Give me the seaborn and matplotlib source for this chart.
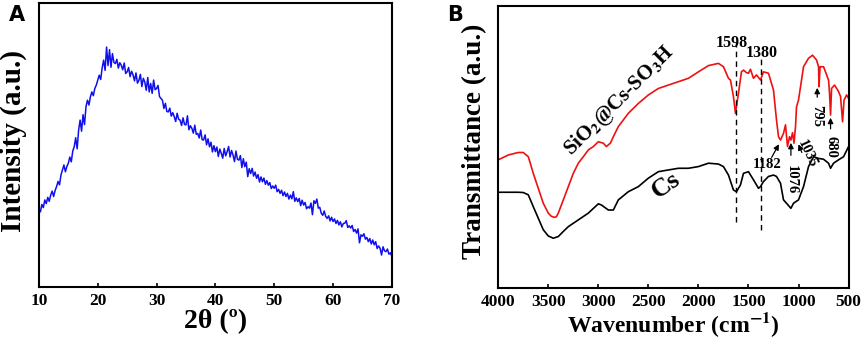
import numpy as np
import pandas as pd
import matplotlib
matplotlib.use("Agg")
import matplotlib.pyplot as plt
import seaborn as sns

# XRD pattern (panel A), 0.25 deg steps, intensity in a.u.
two_theta = np.arange(10, 70.01, 0.25)
xrd_intensity = [
    27.8, 26.5, 29.1, 28.0,
    30.7, 29.4, 31.6, 30.2,
    32.4, 33.8, 31.9, 34.0,
    35.4, 37.2, 36.0, 39.5,
    41.2, 43.0, 40.6, 42.5,
    43.6, 45.8, 44.1, 47.9,
    49.4, 52.6, 48.7, 55.3,
    58.8, 54.9, 60.7, 57.2,
    63.5, 65.8, 64.1, 67.0,
    68.7, 67.4, 69.9, 71.1,
    72.8, 74.6, 73.1, 77.2,
    79.9, 76.3, 84.5, 78.0,
    83.6, 77.4, 82.2, 79.1,
    78.7, 80.2, 77.1, 79.0,
    78.1, 76.5, 78.9, 75.2,
    75.8, 77.3, 74.1, 76.0,
    74.7, 72.6, 75.4, 71.8,
    72.8, 74.9, 70.6, 73.5,
    72.2, 69.3, 73.8, 68.7,
    71.7, 68.2, 72.9, 69.5,
    69.9, 71.0, 67.1, 66.4,
    65.8, 62.9, 64.7, 61.8,
    61.7, 63.0, 60.2, 61.4,
    60.0, 58.3, 61.2, 59.1,
    58.8, 56.9, 59.6, 57.3,
    57.1, 60.3, 55.4, 56.8,
    55.9, 54.2, 57.0, 53.8,
    54.1, 52.5, 55.3, 51.9,
    51.8, 53.6, 50.1, 52.2,
    49.4, 51.0, 47.6, 49.8,
    47.7, 49.3, 46.0, 48.6,
    47.1, 45.4, 48.8, 46.2,
    47.7, 49.5, 45.8, 48.1,
    46.5, 44.2, 47.9, 45.0,
    44.7, 46.3, 42.1, 45.2,
    42.4, 44.0, 38.9, 41.7,
    40.0, 41.8, 39.1, 40.5,
    38.3, 39.6, 37.0, 38.8,
    37.1, 38.4, 36.2, 37.5,
    35.9, 36.8, 34.7, 35.6,
    34.8, 35.9, 33.6, 34.4,
    33.0, 34.1, 32.2, 33.5,
    31.9, 33.0, 31.0, 32.4,
    31.1, 33.6, 30.2, 31.4,
    30.1, 31.2, 28.7, 30.6,
    28.9, 29.8, 27.6, 28.3,
    27.8, 29.6, 25.5, 30.4,
    29.5, 31.0, 27.8, 28.1,
    26.0, 25.3, 26.8, 24.9,
    24.2, 25.1, 23.3, 24.6,
    23.1, 24.0, 22.4, 23.5,
    21.9, 23.0, 21.2, 22.4,
    22.5, 23.4, 21.0, 21.6,
    20.8, 21.7, 19.6, 20.3,
    19.0, 20.5, 15.6, 18.4,
    17.9, 18.8, 16.9, 17.5,
    16.0, 17.1, 15.2, 16.6,
    14.9, 16.0, 13.6, 14.5,
    13.7, 11.3, 14.2, 12.8,
    12.5, 13.4, 11.6, 12.1,
    10.8,
]

# FTIR spectra (panel B)
wn_red = [4000, 3900, 3800, 3750, 3700, 3680, 3650, 3600, 3550, 3500, 3470, 3440,
          3420, 3400, 3350, 3300, 3250, 3200, 3150, 3100, 3050, 3000, 2950,
          2920, 2880, 2850, 2800, 2700, 2600, 2500, 2400, 2300, 2200, 2100, 2000,
          1900, 1800, 1750, 1700, 1680, 1650, 1630, 1600, 1570, 1550, 1520, 1500,
          1480, 1450, 1420, 1380, 1350, 1300, 1250, 1220, 1200, 1180, 1150, 1130,
          1110, 1090, 1076, 1060, 1045, 1030, 1020, 1000, 950, 900, 860, 820,
          800, 795, 785, 750, 700, 690, 680, 670, 640, 600, 580, 560, 545, 520, 500]
t_red = [45.5, 47.2, 48.1, 48.1, 46.6, 44.3, 40.7, 35.4, 30.1, 26.6, 25.5, 25.1,
         25.3, 26.6, 31.3, 36.0, 40.7, 44.3, 46.6, 49.0, 50.2, 51.9, 51.4,
         50.2, 51.4, 53.7, 57.3, 62.0, 65.5, 68.5, 70.8, 72.0, 73.2, 74.4, 76.7,
         78.9, 79.7, 78.5, 74.4, 73.8, 67.9, 62.0, 69.1, 76.7, 77.3, 76.4, 76.2,
         77.6, 74.4, 75.6, 73.8, 76.7, 76.2, 70.2, 59.6, 53.7, 52.5, 54.9, 57.9,
         50.2, 53.7, 52.5, 55.1, 51.4, 57.3, 64.3, 66.7, 78.5, 81.5, 82.6, 80.9,
         78.5, 71.4, 78.5, 78.5, 73.8, 69.1, 61.4, 70.8, 72.0, 69.7, 67.9, 59.0,
         66.7, 68.5, 67.3]

wn_black = [4000, 3800, 3750, 3700, 3650, 3600, 3550, 3500, 3450, 3400, 3350, 3300,
            3250, 3200, 3100, 3000, 2970, 2900, 2850, 2800, 2700, 2600, 2500, 2400,
            2300, 2200, 2100, 2000, 1900, 1800, 1750, 1700, 1650, 1620, 1580, 1550,
            1500, 1450, 1400, 1380, 1350, 1300, 1250, 1220, 1180, 1150, 1120, 1076,
            1050, 1000, 950, 900, 850, 800, 750, 700, 680, 650, 600, 550, 500]
t_black = [34.0, 34.0, 33.9, 33.1, 28.9, 24.8, 20.7, 18.5, 17.7, 18.3, 20.1, 21.8,
           23.0, 24.2, 26.6, 29.9, 29.5, 27.7, 27.7, 31.3, 34.2, 36.0, 39.0, 41.3,
           41.9, 42.5, 42.5, 43.1, 44.3, 44.0, 43.1, 40.1, 34.8, 34.2, 36.6, 40.7,
           41.3, 38.4, 35.4, 36.0, 37.8, 39.6, 40.1, 39.6, 37.2, 31.3, 30.1, 28.3,
           30.1, 31.3, 36.0, 43.1, 46.6, 46.0, 45.7, 44.3, 42.5, 44.3, 45.5, 46.6,
           50.2]

sns.set_style("white")
plt.rcParams['font.family'] = ['Liberation Serif', 'DejaVu Serif']
plt.rcParams['font.weight'] = 'bold'
plt.rcParams['mathtext.fontset'] = 'stix'
plt.rcParams['axes.linewidth'] = 1.5
plt.rcParams['text.color'] = 'black'
plt.rcParams['axes.labelcolor'] = 'black'
plt.rcParams['xtick.color'] = 'black'

fig = plt.figure(figsize=(8.65, 3.39), dpi=100)
ax1 = fig.add_axes([0.045, 0.153, 0.408, 0.838])
ax2 = fig.add_axes([0.576, 0.150, 0.405, 0.832])

# Panel A
df_xrd = pd.DataFrame({'two_theta': two_theta, 'intensity': xrd_intensity})
sns.lineplot(data=df_xrd, x='two_theta', y='intensity', ax=ax1, color='#1010ee', lw=1.1)
ax1.set_xlim(10, 70)
ax1.set_ylim(0, 100)
ticks_a = list(range(10, 71, 10))
ax1.set_xticks(ticks_a, labels=[str(t) for t in ticks_a])
ax1.set_xlabel('2θ (º)', fontsize=20, fontweight='bold', labelpad=0)
ax1.set_ylabel('Intensity (a.u.)', fontsize=21, fontweight='bold')

# Panel B
df_red = pd.DataFrame({'wn': wn_red, 't': t_red})
df_black = pd.DataFrame({'wn': wn_black, 't': t_black})
sns.lineplot(data=df_red, x='wn', y='t', ax=ax2, color='#ee1111', lw=1.2, sort=False)
sns.lineplot(data=df_black, x='wn', y='t', ax=ax2, color='black', lw=1.2, sort=False)
ax2.set_xlim(4000, 500)
ax2.set_ylim(0, 100)
ticks_b = list(range(4000, 499, -500))
ax2.set_xticks(ticks_b, labels=[str(t) for t in ticks_b])
ax2.set_xlabel(r'Wavenumber (cm$^{\mathbf{-1}}$)', fontsize=17, fontweight='bold', labelpad=0)
ax2.set_ylabel('Transmittance (a.u.)', fontsize=19.5, fontweight='bold')

for ax in (ax1, ax2):
    for sp in ax.spines.values():
        sp.set_visible(True)
        sp.set_color('black')
        sp.set_linewidth(1.5)
    ax.tick_params(axis='x', direction='in', length=3, width=1.2, pad=4, bottom=True)
    ax.set_yticks([])
    plt.setp(ax.get_xticklabels(), fontsize=12.5, fontweight='heavy',
             family='Liberation Serif')
ax1.yaxis.set_label_coords(-0.034, 0.515)
ax2.yaxis.set_label_coords(-0.031, 0.52)

# dashed guide lines
ax2.plot([1628, 1628], [23.6, 87.4], color='black', lw=1.0, dashes=(4, 3))
ax2.plot([1379, 1379], [20.7, 81.5], color='black', lw=1.0, dashes=(4, 3))
ax2.text(1671, 86.8, '1598', fontsize=11.5, fontweight='bold', ha='center', va='center')
ax2.text(1372, 83.2, '1380', fontsize=11.5, fontweight='bold', ha='center', va='center')

ax2.text(2790, 66.5, r'SiO$_\mathbf{2}$@Cs-SO$_\mathbf{3}$H', fontsize=15,
         fontweight='bold', rotation=45, ha='center', va='center')
ax2.text(2320, 36.5, 'Cs', fontsize=19, fontweight='bold', rotation=35,
         ha='center', va='center')

arrow = dict(arrowstyle='-|>', color='black', lw=0.9, mutation_scale=8)
ax2.annotate('', xy=(1182, 51.9), xytext=(1282, 45.5), arrowprops=arrow)
ax2.text(1315, 43.7, '1182', fontsize=10.5, fontweight='bold', ha='center', va='center')
ax2.annotate('', xy=(1076, 52.5), xytext=(1076, 46.1), arrowprops=arrow)
ax2.text(1076, 38.5, '1076', fontsize=10.5, fontweight='bold', rotation=-90,
         ha='center', va='center')
ax2.annotate('', xy=(1012, 51.9), xytext=(956, 47.2), arrowprops=arrow)
ax2.text(915, 47.5, '1035', fontsize=10.5, fontweight='bold', rotation=-65,
         ha='center', va='center')
ax2.annotate('', xy=(813, 72.0), xytext=(813, 66.7), arrowprops=arrow)
ax2.text(823, 61.0, '795', fontsize=10.5, fontweight='bold', rotation=-90,
         ha='center', va='center')
ax2.annotate('', xy=(680, 61.4), xytext=(680, 55.5), arrowprops=arrow)
ax2.text(680, 50.0, '680', fontsize=10.5, fontweight='bold', rotation=-90,
         ha='center', va='center')

fig.text(0.020, 0.955, 'A', fontsize=15, fontweight='bold', family='DejaVu Sans',
         ha='center', va='center')
fig.text(0.526, 0.955, 'B', fontsize=15, fontweight='bold', family='DejaVu Sans',
         ha='center', va='center')

fig.savefig('out.png', dpi=100)
